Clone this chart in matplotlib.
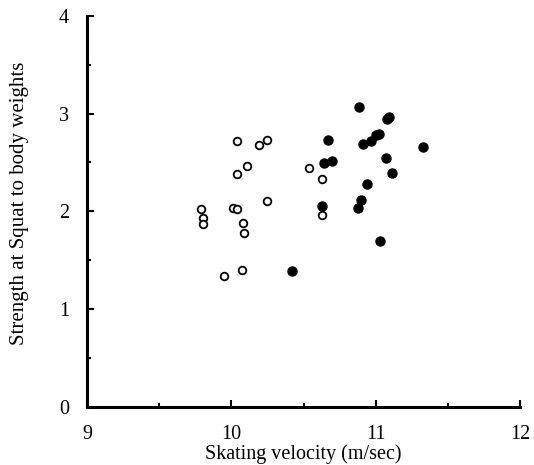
import matplotlib
matplotlib.use('Agg')
import matplotlib.pyplot as plt
from matplotlib.ticker import MultipleLocator

# Open circles
open_x = [10.04, 10.19, 10.25, 10.11, 10.04, 10.54, 10.63, 10.25, 9.79, 9.80,
          9.80, 10.01, 10.04, 10.08, 10.09, 10.63, 9.95, 10.07]
open_y = [2.72, 2.68, 2.73, 2.46, 2.38, 2.44, 2.33, 2.11, 2.02, 1.93,
          1.87, 2.03, 2.02, 1.88, 1.78, 1.96, 1.34, 1.40]

# Filled circles
filled_x = [10.67, 10.64, 10.70, 10.63, 10.42, 10.885, 11.095, 11.08, 10.915, 10.97,
            11.00, 11.02, 11.33, 11.07, 11.11, 10.94, 10.90, 10.88, 11.03]
filled_y = [2.73, 2.49, 2.52, 2.05, 1.39, 3.07, 2.97, 2.94, 2.69, 2.72,
            2.78, 2.79, 2.66, 2.55, 2.39, 2.28, 2.12, 2.03, 1.70]

plt.rcParams['font.family'] = ['Liberation Serif', 'DejaVu Serif']

fig = plt.figure(figsize=(5.34, 4.65), dpi=100)
ax = fig.add_axes([0.163, 0.125, 0.811, 0.841])

ax.plot(open_x, open_y, 'o', mfc='white', mec='black', mew=1.3, ms=5.5, ls='none')
ax.plot(filled_x, filled_y, 'o', color='black', ms=6.5, ls='none')

ax.set_xlim(9, 12)
ax.set_ylim(0, 4)
ax.xaxis.set_major_locator(MultipleLocator(1))
ax.yaxis.set_major_locator(MultipleLocator(1))
ax.xaxis.set_minor_locator(MultipleLocator(0.5))
ax.yaxis.set_minor_locator(MultipleLocator(0.5))
ax.tick_params(which='both', direction='in', width=1.5, labelsize=14.5)
ax.tick_params(axis='x', which='both', pad=13)
ax.tick_params(axis='y', which='both', pad=13)
ax.tick_params(which='major', length=5)
ax.tick_params(which='minor', length=3)

for side in ['top', 'right']:
    ax.spines[side].set_visible(False)
for side in ['left', 'bottom']:
    ax.spines[side].set_linewidth(2.2)

ax.set_xlabel('Skating velocity (m/sec)', fontsize=14.5, labelpad=0)
ax.set_ylabel('Strength at Squat to body weights', fontsize=15)
ax.yaxis.set_label_coords(-0.135, 0.52)

plt.savefig('out.png', dpi=100)
